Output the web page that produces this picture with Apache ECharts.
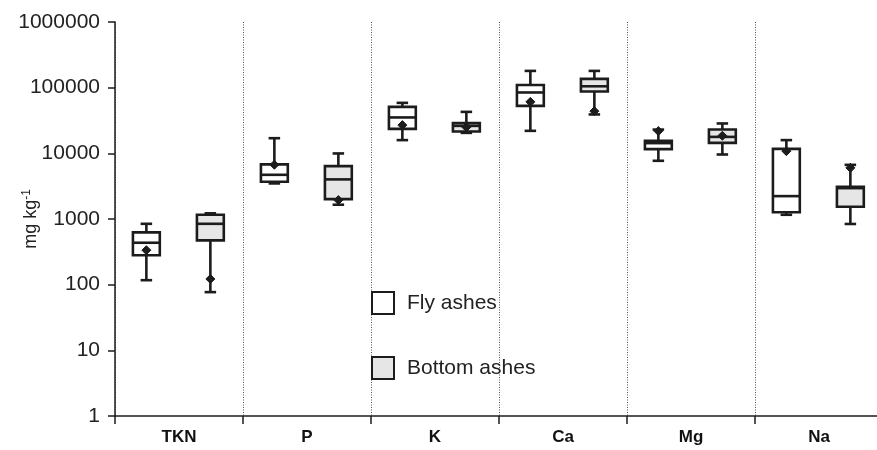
<!DOCTYPE html>
<html>
<head>
<meta charset="utf-8">
<script src="https://cdn.jsdelivr.net/npm/echarts@6/dist/echarts.min.js"></script>
<style>
  html, body { margin: 0; padding: 0; background: #fff; }
  #chart { width: 877px; height: 450px; }
</style>
</head>
<body>
<div id="chart"></div>
<script>
// Nutrient contents of ashes (mg kg-1), box plots per element
const categories = ['TKN', 'P', 'K', 'Ca', 'Mg', 'Na'];
const yTicks = [1, 10, 100, 1000, 10000, 100000, 1000000];

// Fly ashes
const flyMin    = [117, 3480, 15900, 22000, 7700, 1160];
const flyQ1     = [280, 3690, 23600, 52800, 11600, 1270];
const flyMedian = [435, 4710, 35200, 84500, 14300, 2230];
const flyQ3     = [625, 6780, 51000, 110000, 15500, 11700];
const flyMax    = [845, 17000, 58700, 180000, 23000, 15900];
const flyMean   = [335, 6700, 26900, 60800, 21800, 10800];

// Bottom ashes
const bottomMin    = [77, 1650, 20500, 39100, 9600, 840];
const bottomQ1     = [472, 2010, 21500, 87500, 14450, 1540];
const bottomMedian = [845, 4010, 26200, 105000, 17800, 2950];
const bottomQ3     = [1160, 6390, 28800, 136000, 23100, 3080];
const bottomMax    = [1220, 9960, 42800, 180000, 28500, 6680];
const bottomMean   = [122, 1940, 25000, 43900, 18500, 6010];

function rows(mins, q1s, meds, q3s, maxs, means) {
  return categories.map((c, i) => [i, mins[i], q1s[i], meds[i], q3s[i], maxs[i], means[i]]);
}

const INK = '#1c1c1c';
const FONT = 'Liberation Sans, Arial, Helvetica, sans-serif';

// Box with whiskers, short caps and a diamond at the mean.
// offsetFrac shifts the box within its category band.
function makeRenderer(offsetFrac, fill) {
  return function (params, api) {
    const idx = api.value(0);
    const band = api.size([1, 0])[0];
    const cx = api.coord([idx, 1])[0] + band * offsetFrac;
    const y = v => api.coord([idx, v])[1];
    const yMin = y(api.value(1)), yQ1 = y(api.value(2)), yMed = y(api.value(3));
    const yQ3 = y(api.value(4)), yMax = y(api.value(5)), yMean = y(api.value(6));
    const hw = band * 0.105;   // half box width
    const cw = band * 0.045;   // half cap width
    const lw = 2.6;
    const line = (x1, y1, x2, y2) => ({
      type: 'line', shape: { x1, y1, x2, y2 },
      style: { stroke: INK, lineWidth: lw }
    });
    const d = 4.5;
    return {
      type: 'group',
      children: [
        line(cx, yQ3, cx, yMax),
        line(cx, yQ1, cx, yMin),
        line(cx - cw, yMax, cx + cw, yMax),
        line(cx - cw, yMin, cx + cw, yMin),
        {
          type: 'rect',
          shape: { x: cx - hw, y: yQ3, width: hw * 2, height: yQ1 - yQ3 },
          style: { fill: fill, stroke: INK, lineWidth: lw }
        },
        line(cx - hw, yMed, cx + hw, yMed),
        {
          type: 'polygon',
          shape: { points: [[cx, yMean - d], [cx + d, yMean], [cx, yMean + d], [cx - d, yMean]] },
          style: { fill: INK, stroke: INK, lineWidth: 1 }
        }
      ]
    };
  };
}

const chart = echarts.init(document.getElementById('chart'), null, { renderer: 'canvas' });

chart.setOption({
  animation: false,
  backgroundColor: '#fff',
  grid: { left: 115, top: 22, bottom: 34, right: -6, containLabel: false, outerBoundsMode: 'none' },
  legend: {
    orient: 'vertical',
    left: 371,
    top: 291,
    padding: 0,
    itemWidth: 22,
    itemHeight: 22,
    itemGap: 41,
    selectedMode: false,
    textStyle: { fontFamily: FONT, fontSize: 21, color: '#222', padding: [0, 0, 0, 8] },
    data: [
      { name: 'Fly ashes', icon: 'rect', itemStyle: { color: '#ffffff', borderColor: INK, borderWidth: 2 } },
      { name: 'Bottom ashes', icon: 'rect', itemStyle: { color: '#e6e6e6', borderColor: INK, borderWidth: 2 } }
    ]
  },
  xAxis: {
    type: 'category',
    data: categories,
    boundaryGap: true,
    axisLine: { show: true, lineStyle: { color: INK, width: 1.5 } },
    axisTick: { show: true, length: 8, alignWithLabel: false, lineStyle: { color: INK, width: 1.5 } },
    axisLabel: {
      margin: 13,
      fontFamily: 'Liberation Sans Narrow, Arial Narrow, ' + FONT,
      fontWeight: 'bold',
      fontSize: 17,
      color: '#111'
    },
    splitLine: { show: true, lineStyle: { color: '#555', type: [1, 1.5], width: 1 } }
  },
  yAxis: {
    type: 'log',
    logBase: 10,
    min: 1,
    max: 1000000,
    name: '{t|mg kg}{s|-1}',
    nameLocation: 'middle',
    nameGap: 74,
    nameMoveOverlap: false,
    nameTextStyle: {
      rich: {
        t: { fontFamily: FONT, fontSize: 18, color: '#222' },
        s: { fontFamily: FONT, fontSize: 12, color: '#222', verticalAlign: 'top', padding: [0, 0, 8, 0] }
      }
    },
    axisLine: { show: true, lineStyle: { color: INK, width: 1.5 } },
    axisTick: { show: true, length: 7, lineStyle: { color: INK, width: 1.5 } },
    axisLabel: {
      margin: 15,
      fontFamily: FONT,
      fontSize: 21,
      color: '#222',
      formatter: v => {
        const t = yTicks.find(k => Math.abs(k - v) / k < 1e-6);
        return t === undefined ? '' : String(t);
      }
    },
    splitLine: { show: false },
    minorTick: { show: false }
  },
  series: [
    {
      name: 'Fly ashes',
      type: 'custom',
      renderItem: makeRenderer(-0.255, '#ffffff'),
      encode: { x: 0, y: [1, 2, 3, 4, 5, 6] },
      itemStyle: { color: '#ffffff', borderColor: INK },
      data: rows(flyMin, flyQ1, flyMedian, flyQ3, flyMax, flyMean)
    },
    {
      name: 'Bottom ashes',
      type: 'custom',
      renderItem: makeRenderer(0.245, '#e6e6e6'),
      encode: { x: 0, y: [1, 2, 3, 4, 5, 6] },
      itemStyle: { color: '#e6e6e6', borderColor: INK },
      data: rows(bottomMin, bottomQ1, bottomMedian, bottomQ3, bottomMax, bottomMean)
    }
  ]
});
</script>
</body>
</html>
